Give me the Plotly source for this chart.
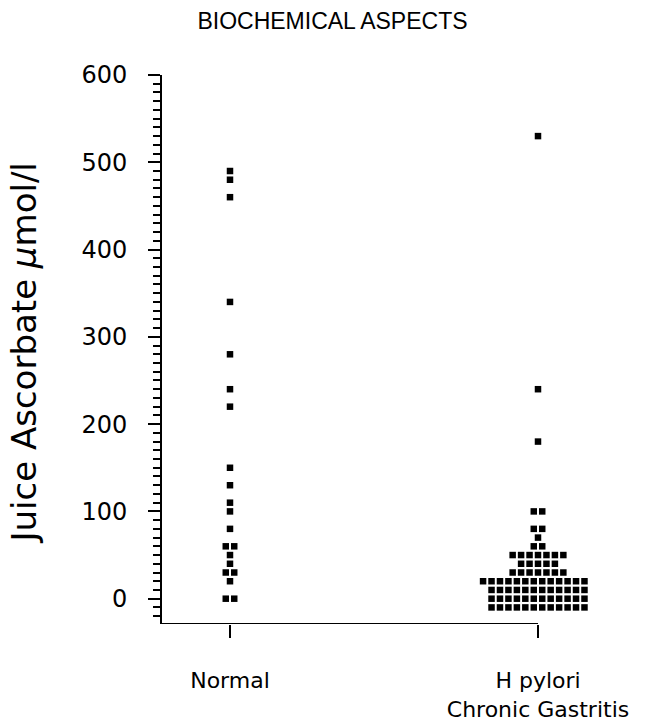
import plotly.graph_objects as go
from collections import Counter

# ---- data ----
categories = ["Normal", "H pylori<br>Chronic Gastritis"]
category_pos = [1, 2]
normal_values = [490, 480, 460, 340, 280, 240, 220, 150, 130, 110, 100, 80,
                 60, 60, 50, 40, 30, 30, 20, 0, 0]
hpylori_values = ([530, 240, 180] + [100] * 2 + [80] * 2 + [70] + [60] * 2 +
                  [50] * 7 + [40] * 5 + [30] * 7 + [20] * 13 + [10] * 12 +
                  [0] * 12 + [-10] * 12)
y_tickvals = [0, 100, 200, 300, 400, 500, 600]

# ---- layout constants ----
W, H = 653, 727
PX_PER_X = 308.0
STEP = 8.45 / PX_PER_X       # horizontal spacing of stacked dots (x units)
ROW_SHIFT = {20: -0.5}       # alignment of the widest row in H pylori group
X_MIN = 1 - 68 / PX_PER_X
X_AXIS_END = 2.0
X_MAX = 2 + 62 / PX_PER_X
Y_MIN, Y_MAX = -29, 600
ML, MT, MB = 162, 75, 103
PLOT_W = int(round((X_MAX - X_MIN) * PX_PER_X))
PLOT_H = H - MT - MB
MR = W - ML - PLOT_W


def swarm(values, center, shift=None):
    xs, ys = [], []
    counts = Counter(values)
    for v in sorted(counts, reverse=True):
        n = counts[v]
        s = (shift or {}).get(v, 0) if n > 1 else 0
        for i in range(n):
            xs.append(center + (i - (n - 1) / 2 + s) * STEP)
            ys.append(v)
    return xs, ys


nx, ny = swarm(normal_values, category_pos[0])
hx, hy = swarm(hpylori_values, category_pos[1], ROW_SHIFT)

marker = dict(symbol="square", size=6.5, color="black", line=dict(width=0))

fig = go.Figure()
fig.add_trace(go.Scatter(x=nx, y=ny, mode="markers", marker=marker,
                         cliponaxis=False, showlegend=False, hoverinfo="y"))
fig.add_trace(go.Scatter(x=hx, y=hy, mode="markers", marker=marker,
                         cliponaxis=False, showlegend=False, hoverinfo="y"))

# bottom axis line that stops at the second category tick
fig.add_shape(type="line", xref="x", yref="y", x0=X_MIN, x1=X_AXIS_END,
              y0=Y_MIN, y1=Y_MIN, line=dict(color="black", width=2))

fig.update_layout(
    width=W, height=H,
    margin=dict(l=ML, r=MR, t=MT, b=MB, autoexpand=False),
    paper_bgcolor="white", plot_bgcolor="white",
    font=dict(family="DejaVu Sans", color="black"),
    title=dict(text="BIOCHEMICAL ASPECTS", x=332.5 / W, xanchor="center",
               y=1 - 21 / H, yanchor="middle",
               font=dict(family="Liberation Sans", size=23, color="black")),
    xaxis=dict(range=[X_MIN, X_MAX], showgrid=False, zeroline=False,
               showline=False, automargin=False,
               tickmode="array", tickvals=category_pos, ticktext=categories,
               ticks="outside", ticklen=13, tickwidth=2, tickcolor="black",
               ticklabelstandoff=24,
               tickfont=dict(family="DejaVu Sans", size=22, color="black")),
    yaxis=dict(range=[Y_MIN, Y_MAX], showgrid=False, zeroline=False,
               showline=True, linecolor="black", linewidth=2,
               automargin=False,
               tickmode="array", tickvals=y_tickvals,
               ticks="outside", ticklen=12, tickwidth=2, tickcolor="black",
               minor=dict(dtick=10, tick0=0, ticks="outside", ticklen=7,
                          tickwidth=1.5, tickcolor="black", showgrid=False),
               ticklabelstandoff=16,
               tickfont=dict(family="DejaVu Sans", size=24, color="black")),
    annotations=[dict(text="Juice Ascorbate <i>μ</i>mol/l", textangle=-90,
                      xref="paper", yref="paper",
                      x=(24 - ML) / PLOT_W, y=(H - MB - 353.5) / PLOT_H,
                      xanchor="center", yanchor="middle", showarrow=False,
                      font=dict(family="DejaVu Sans", size=34, color="black"))],
)

fig.write_html("out.html")
